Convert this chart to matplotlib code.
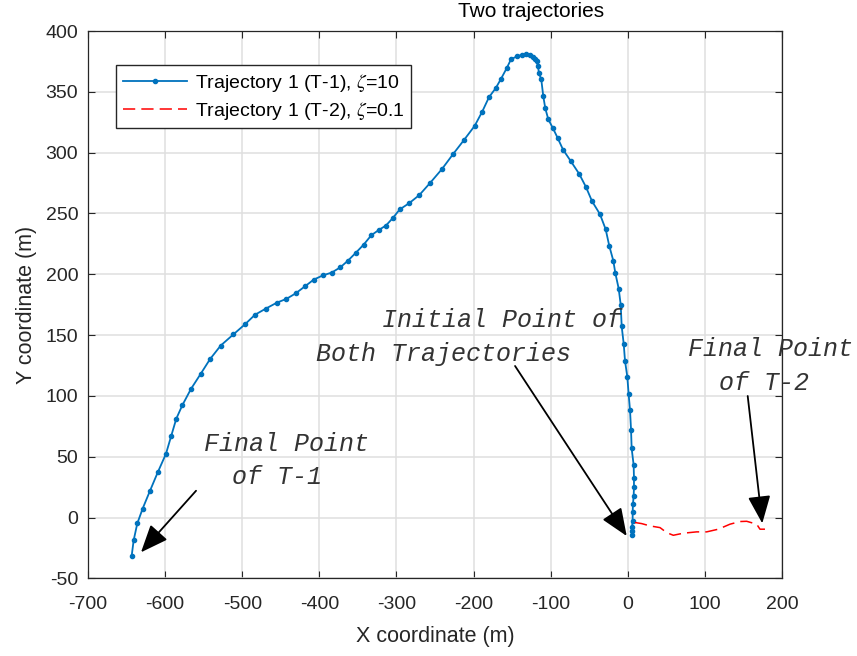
import matplotlib
matplotlib.use('Agg')
import matplotlib.pyplot as plt

# Trajectory 1 (T-1), zeta=10 : from the initial point to the final point
t1_x = [5.8, 5.4, 5.4, 6.3, 6.3, 6.7, 7.6, 8.0, 8.0, 7.6, 5.0, 4.2, 2.9, 1.1, -0.6, -3.6, -5.3,
        -7.9, -9.2, -11.8, -16.2, -18.8, -24.0, -28.7, -36.1, -46.4, -54.2, -62.9, -73.7, -84.0,
        -90.9, -97.0, -103.1, -107.0, -109.6, -112.2, -115.2, -116.5, -118.1, -120.3, -122.5,
        -126.8, -132.0, -137.6, -144.1, -151.5, -157.0, -164.4, -171.3, -180.0, -188.7, -198.6,
        -212.4, -226.7,
        -241.0, -256.5, -270.4, -283.4, -295.8, -304.9, -313.6, -322.7, -332.6, -342.5, -352.5,
        -362.9, -372.8, -384.0, -395.3, -407.3, -418.6, -430.7, -442.6, -455.3, -469.6, -483.5,
        -496.0, -511.6, -527.9, -541.8, -553.9, -566.5, -577.7, -585.5, -592.0, -598.9, -609.6,
        -620.0, -629.1, -636.1, -640.8, -643.4]
t1_y = [-14.3, -11.0, -8.2, -2.8, 4.6, 11.0, 17.8, 24.7, 32.6, 43.1, 56.9, 72.2, 88.2, 101.4, 115.6, 128.8, 142.8,
        157.1, 175.0, 188.2, 201.1, 211.2, 223.3, 237.0, 249.4, 260.1, 271.7, 282.4, 292.8, 302.5,
        312.0, 320.0, 327.4, 336.5, 346.4, 360.2, 365.4, 371.1, 375.0, 376.9, 378.5,
        379.9, 381.0, 380.4, 379.1, 376.7, 369.5, 360.7, 353.0, 345.6, 333.8, 322.0,
        310.4, 298.7,
        286.5, 275.0, 265.1, 258.5, 253.3, 246.1, 240.1, 236.5, 232.1, 224.4, 217.8,
        211.2, 205.7, 201.4, 199.1, 195.6, 190.1, 184.3, 179.8, 176.6, 171.7, 166.7,
        159.1, 150.5, 141.4, 130.2, 118.1, 105.7, 92.3, 81.3, 67.3, 52.4, 37.1,
        21.4, 7.4, -4.9, -18.7, -31.6]

# Trajectory 1 (T-2), zeta=0.1
t2_x = [9.3, 18.0, 28.8, 41.8, 50.4, 59.0, 72.0, 89.3, 102.3, 117.4, 132.5, 145.5, 154.2, 167.2, 171.4, 177.9]
t2_y = [-4.1, -5.0, -6.9, -8.3, -12.4, -14.6, -12.9, -11.8, -11.8, -9.6, -5.5, -3.3, -3.1, -5.5, -9.6, -9.6]

x_ticks = [-700, -600, -500, -400, -300, -200, -100, 0, 100, 200]
y_ticks = [-50, 0, 50, 100, 150, 200, 250, 300, 350, 400]

plt.rcParams['font.family'] = ['Liberation Sans', 'DejaVu Sans']
plt.rcParams['mathtext.fontset'] = 'stix'
plt.rcParams['axes.unicode_minus'] = False

dark = '#262626'
fig = plt.figure(figsize=(8.57, 6.56), dpi=100)
ax = fig.add_axes([0.1027, 0.1184, 0.8098, 0.8343])

ax.plot(t1_x, t1_y, color='#0072BD', lw=1.3, marker='o', ms=3,
        label=r'Trajectory 1 (T-1), $\zeta$=10')
ax.plot(t2_x, t2_y, color='#FF0000', lw=1.1, dashes=(8, 4),
        label=r'Trajectory 1 (T-2), $\zeta$=0.1')

ax.set_xlim(-700, 200)
ax.set_ylim(-50, 400)
ax.set_xticks(x_ticks)
ax.set_yticks(y_ticks)
ax.grid(True, color='#DFDFDF', lw=1.1)
ax.set_axisbelow(True)
ax.tick_params(direction='in', top=True, right=True, length=5, width=0.8,
               colors=dark, labelsize=14)
ax.tick_params(axis='y', pad=7)
ax.tick_params(axis='x', pad=13)
for s in ax.spines.values():
    s.set_color(dark)
    s.set_linewidth(0.9)

ax.set_xlabel('X coordinate (m)', fontsize=15.5, color=dark, labelpad=9)
ax.set_ylabel('Y coordinate (m)', fontsize=15.5, color=dark, labelpad=6)
ax.set_title('Two trajectories', fontsize=15, color='black', x=0.638, pad=10)

leg = ax.legend(loc='upper left', bbox_to_anchor=(0.0403, 0.938), fontsize=14,
                fancybox=False, framealpha=1, edgecolor=dark, borderpad=0.35,
                handlelength=3.3, handletextpad=0.4, labelspacing=0.3,
                borderaxespad=0)
leg.get_frame().set_linewidth(1.0)

txt = dict(family='Liberation Mono', style='italic', fontsize=18, color='#333333',
           ha='center', va='center')
ax.text(-163.1, 162.4, 'Initial Point of', **txt)
ax.text(-238.4, 134.5, 'Both Trajectories', **txt)
ax.text(185.7, 138.6, 'Final Point', **txt)
ax.text(176.0, 110.6, 'of T-2', **txt)
ax.text(-442.7, 60.4, 'Final Point', **txt)
ax.text(-455.1, 33.3, 'of T-1', **txt)

arr = dict(arrowstyle='-|>,head_length=0.85,head_width=0.35', color='black', lw=1.3,
           shrinkA=0, shrinkB=0, mutation_scale=20)
ax.annotate('', xy=(-1.4, -15.2), xytext=(-146.2, 124.6), arrowprops=arr)
ax.annotate('', xy=(174.4, -4.8), xytext=(155.5, 99.9), arrowprops=arr)
ax.annotate('', xy=(-631.3, -28.6), xytext=(-559.9, 22.0), arrowprops=arr)

fig.savefig('out.png', dpi=100)
